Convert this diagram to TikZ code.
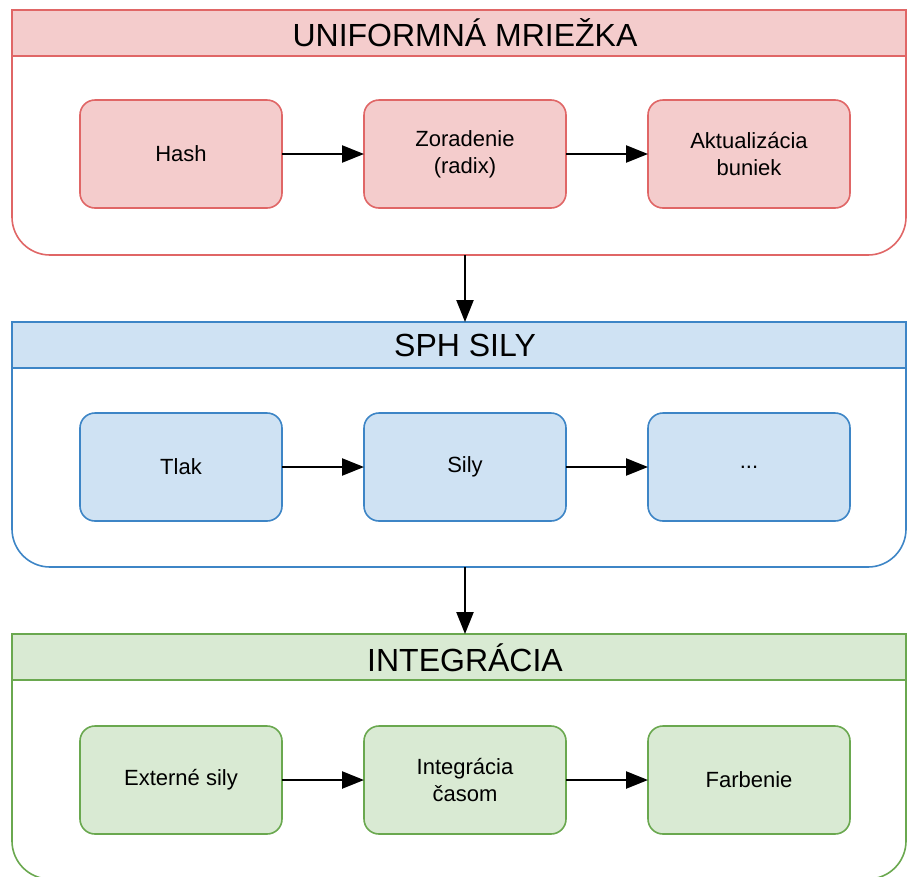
\documentclass[tikz,border=0pt]{standalone}
\usepackage{fontspec}
\setmainfont{Liberation Sans}
\usepackage{tikz}
\usetikzlibrary{arrows.meta,positioning}
\usepackage{xcolor}
\definecolor{redfill}{HTML}{F4CCCC}
\definecolor{redline}{HTML}{E06666}
\definecolor{bluefill}{HTML}{CFE2F3}
\definecolor{blueline}{HTML}{3D85C6}
\definecolor{greenfill}{HTML}{D9EAD3}
\definecolor{greenline}{HTML}{6AA84F}

\begin{document}
\begin{tikzpicture}[
  lane/.style={draw, fill=white, line width=1.6pt, outer sep=0pt, rounded corners=38pt, minimum width=894pt, minimum height=245pt, anchor=north west},
  head/.style={draw, line width=1.6pt, outer sep=0pt, minimum width=894pt, minimum height=46pt, anchor=north west},
  title/.style={font=\fontsize{32}{38}\selectfont},
  stage/.style={draw, line width=1.6pt, outer sep=0pt, rounded corners=15pt, minimum width=202pt, minimum height=108pt, align=center, font=\fontsize{22}{27}\selectfont},
  arrow/.style={-{Triangle[length=22pt, width=17pt]}, line width=2.4pt}]

\useasboundingbox (0,0) rectangle (907pt,-876pt);

% uniform grid
\node[lane, draw=redline] (grid) at (12pt,-10pt) {};
\node[head, fill=redfill, draw=redline] (gridhead) at (grid.north west) {};
\node[title] (gridtitle) at (465pt,-33pt) {UNIFORMNÁ MRIEŽKA};
\node[stage, fill=redfill, draw=redline] (hash) at (181pt,-154pt) {Hash};
\node[stage, fill=redfill, draw=redline, right=82pt of hash] (sort) {Zoradenie\\(radix)};
\node[stage, fill=redfill, draw=redline, right=82pt of sort] (cells) {Aktualizácia\\buniek};

% SPH forces
\node[lane, draw=blueline, below=67pt of grid.south west, anchor=north west] (sph) {};
\node[head, fill=bluefill, draw=blueline] (sphhead) at (sph.north west) {};
\node[title] (sphtitle) at (465pt,-345pt) {SPH SILY};
\node[stage, fill=bluefill, draw=blueline, below=205pt of hash] (press) {Tlak};
\node[stage, fill=bluefill, draw=blueline, right=82pt of press] (force) {Sily};
\node[stage, fill=bluefill, draw=blueline, right=82pt of force] (more) {...};

% integration
\node[lane, draw=greenline, below=67pt of sph.south west, anchor=north west] (integ) {};
\node[head, fill=greenfill, draw=greenline] (integhead) at (integ.north west) {};
\node[title] (integtitle) at (465pt,-658pt) {INTEGRÁCIA};
\node[stage, fill=greenfill, draw=greenline, below=205pt of press] (ext) {Externé sily};
\node[stage, fill=greenfill, draw=greenline, right=82pt of ext] (step) {Integrácia\\časom};
\node[stage, fill=greenfill, draw=greenline, right=82pt of step] (color) {Farbenie};

\draw[arrow] (hash) -- (sort);
\draw[arrow] (sort) -- (cells);
\draw[arrow] (press) -- (force);
\draw[arrow] (force) -- (more);
\draw[arrow] (ext) -- (step);
\draw[arrow] (step) -- (color);
\draw[arrow] (sort |- grid.south) -- (sort |- sphhead.north);
\draw[arrow] (force |- sph.south) -- (force |- integhead.north);
\end{tikzpicture}
\end{document}
